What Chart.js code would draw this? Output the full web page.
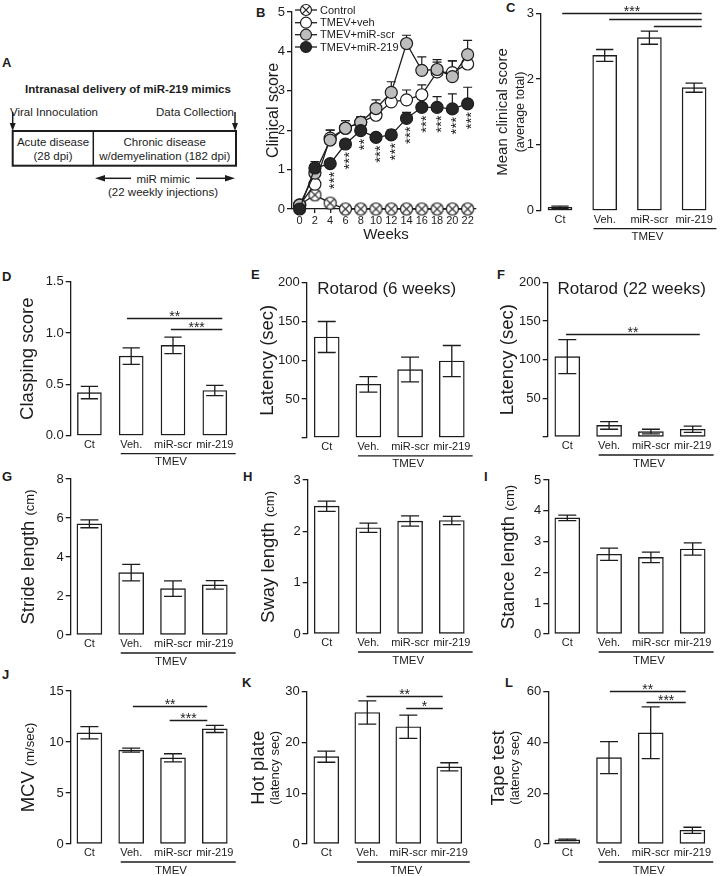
<!DOCTYPE html>
<html>
<head>
<meta charset="utf-8">
<title>miR-219 mimics</title>
<script src="https://cdn.jsdelivr.net/npm/chart.js@4.4.1/dist/chart.umd.min.js"></script>
<style>
  html, body { margin: 0; padding: 0; background: #fff; }
  #fig { position: relative; width: 726px; height: 876px; overflow: hidden;
         font-family: "Liberation Sans", Arial, Helvetica, sans-serif; color: #1c1c1c; }
  #fig canvas { position: absolute; }
  .lt { position: absolute; font-weight: bold; font-size: 13px; line-height: 1; }
  #schema { position: absolute; left: 0; top: 0; }
</style>
</head>
<body>
<div id="fig">
  <!-- panel A: study design -->
  <svg id="schema" width="240" height="205" font-family="Liberation Sans, Arial, sans-serif" fill="#1c1c1c">
    <text x="2" y="67" font-size="13" font-weight="bold">A</text>
    <text x="128" y="93" font-size="11.5" font-weight="bold" text-anchor="middle">Intranasal delivery of miR-219 mimics</text>
    <text x="10" y="116" font-size="11.5">Viral Innoculation</text>
    <text x="234" y="116" font-size="11.5" text-anchor="end">Data Collection</text>
    <line x1="12.7" y1="112" x2="12.7" y2="125" stroke="#1c1c1c" stroke-width="1.5"/>
    <polygon points="9.7,123 15.7,123 12.7,131" />
    <line x1="235" y1="112" x2="235" y2="125" stroke="#1c1c1c" stroke-width="1.5"/>
    <polygon points="232,123 238,123 235,131" />
    <rect x="12.7" y="131" width="223.3" height="34.7" fill="none" stroke="#1c1c1c" stroke-width="2"/>
    <line x1="93.3" y1="131" x2="93.3" y2="165.7" stroke="#1c1c1c" stroke-width="1.5"/>
    <text x="53" y="146" font-size="11.5" text-anchor="middle">Acute disease</text>
    <text x="53" y="159.5" font-size="11.5" text-anchor="middle">(28 dpi)</text>
    <text x="164.7" y="146" font-size="11.5" text-anchor="middle">Chronic disease</text>
    <text x="164.7" y="159.5" font-size="11.5" text-anchor="middle">w/demyelination (182 dpi)</text>
    <line x1="103" y1="178.3" x2="131" y2="178.3" stroke="#1c1c1c" stroke-width="1.5"/>
    <polygon points="95,178.3 105,175 105,181.6" />
    <line x1="196" y1="178.3" x2="227" y2="178.3" stroke="#1c1c1c" stroke-width="1.5"/>
    <polygon points="235,178.3 225,175 225,181.6" />
    <text x="163.3" y="182.5" font-size="11.5" text-anchor="middle">miR mimic</text>
    <text x="163" y="196" font-size="11.5" text-anchor="middle">(22 weekly injections)</text>
  </svg>

  <div class="lt" style="left:256px;top:6px">B</div>
  <div class="lt" style="left:506px;top:1px">C</div>
  <div class="lt" style="left:2px;top:270px">D</div>
  <div class="lt" style="left:251px;top:268px">E</div>
  <div class="lt" style="left:497px;top:268px">F</div>
  <div class="lt" style="left:2px;top:470px">G</div>
  <div class="lt" style="left:243px;top:470px">H</div>
  <div class="lt" style="left:484px;top:470px">I</div>
  <div class="lt" style="left:2px;top:668px">J</div>
  <div class="lt" style="left:242px;top:676px">K</div>
  <div class="lt" style="left:505px;top:676px">L</div>

  <canvas id="chartB"></canvas>
  <canvas id="chartC"></canvas>
  <canvas id="chartD"></canvas>
  <canvas id="chartE"></canvas>
  <canvas id="chartF"></canvas>
  <canvas id="chartG"></canvas>
  <canvas id="chartH"></canvas>
  <canvas id="chartI"></canvas>
  <canvas id="chartJ"></canvas>
  <canvas id="chartK"></canvas>
  <canvas id="chartL"></canvas>
</div>

<script>
// ---- data ----
const weeks = [0, 2, 4, 6, 8, 10, 12, 14, 16, 18, 20, 22];
const ctrlScore = [0.1, 0.36, 0.15, 0, 0, 0, 0, 0, 0, 0, 0, 0];
const vehScore = [0.1, 0.63, 1.8, 2.05, 2.2, 2.38, 2.72, 2.77, 2.9, 3.48, 3.46, 3.68];
const vehErr = [0, 0.12, 0.2, 0.19, 0.14, 0.12, 0.15, 0.25, 0.25, 0.25, 0.3, 0.15];
const scrScore = [0.1, 0.91, 1.75, 2.05, 2.2, 2.55, 2.96, 4.2, 3.52, 3.54, 3.36, 3.92];
const scrErr = [0, 0.15, 0.25, 0.19, 0.14, 0.22, 0.27, 0.21, 0.34, 0.25, 0.4, 0.36];
const m219Score = [0, 1.04, 1.15, 1.65, 1.99, 1.82, 1.88, 2.3, 2.58, 2.58, 2.54, 2.67];
const m219Err = [0, 0.16, 0, 0.1, 0.13, 0, 0.12, 0.15, 0.22, 0.27, 0.38, 0.42];
const m219Stars = ['', '', '***', '***', '**', '***', '***', '***', '***', '***', '***', '***'];

const groups = ['Ct', 'Veh.', 'miR-scr', 'mir-219'];
const meanScore = [0.05, 2.36, 2.63, 1.87];
const meanScoreErr = [0.02, 0.09, 0.1, 0.07];
const clasping = [0.42, 0.775, 0.88, 0.44];
const claspingErr = [0.06, 0.08, 0.08, 0.05];
const rotarod6 = [130, 69, 88, 99];
const rotarod6Err = [20, 10, 16, 20];
const rotarod22 = [104, 15, 7, 10];
const rotarod22Err = [22, 5, 3, 4];
const stride = [5.7, 3.2, 2.38, 2.57];
const strideErr = [0.2, 0.42, 0.4, 0.22];
const sway = [2.49, 2.07, 2.2, 2.21];
const swayErr = [0.1, 0.09, 0.1, 0.08];
const stance = [3.77, 2.59, 2.49, 2.76];
const stanceErr = [0.09, 0.2, 0.17, 0.2];
const mcv = [10.9, 9.2, 8.45, 11.28];
const mcvErr = [0.6, 0.2, 0.4, 0.35];
const hotPlate = [17.2, 25.9, 23.1, 15.2];
const hotPlateErr = [1.1, 2.3, 2.3, 0.8];
const tapeTest = [1.6, 34, 43.8, 5.4];
const tapeTestErr = [0.3, 6.3, 10.2, 1.2];

// significance brackets: group positions and height in data units
const sigC = [{ x1: 0.05, x2: 3.17, y: 3.0, text: '***' }, { x1: 1.1, x2: 3.17, y: 2.91, text: '' }, { x1: 2.1, x2: 3.17, y: 2.81, text: '' }];
const sigD = [{ x1: 0.9, x2: 3.18, y: 1.15, text: '**' }, { x1: 1.95, x2: 3.18, y: 1.04, text: '***' }];
const sigF = [{ x1: -0.03, x2: 3.17, y: 133, text: '**' }];
const sigJ = [{ x1: 1.04, x2: 2.82, y: 13.56, text: '**' }, { x1: 1.92, x2: 2.82, y: 12.16, text: '***' }];
const sigK = [{ x1: 0.98, x2: 2.84, y: 29.2, text: '**' }, { x1: 1.95, x2: 2.84, y: 26.7, text: '*' }];
const sigL = [{ x1: 1.02, x2: 2.84, y: 60.1, text: '**' }, { x1: 1.9, x2: 2.84, y: 55.8, text: '***' }];

// ---- common ----
const INK = '#1c1c1c';
const FONT = '"Liberation Sans", Arial, Helvetica, sans-serif';
Chart.defaults.font.family = FONT;
Chart.defaults.color = INK;

function place(cv, L) {
    cv.width = L.w;
    cv.height = L.h;
    cv.style.left = L.left + 'px';
    cv.style.top = L.top + 'px';
}

// rotated y axis label made of pieces with different sizes
function drawYLabel(ctx, parts, x, y) {
    const big = Math.max(...parts.map(p => p.s));
    let total = 0;
    parts.forEach(p => { ctx.font = p.s + 'px ' + FONT; total += ctx.measureText(p.t).width; });
    ctx.save();
    ctx.translate(x, y);
    ctx.rotate(-Math.PI / 2);
    ctx.fillStyle = INK;
    ctx.textAlign = 'left';
    ctx.textBaseline = 'alphabetic';
    let cur = -total / 2;
    parts.forEach(p => {
        ctx.font = p.s + 'px ' + FONT;
        ctx.fillText(p.t, cur, 0.36 * big);
        cur += ctx.measureText(p.t).width;
    });
    ctx.restore();
}

function barDeco(L, d) {
    return {
        id: 'deco',
        afterDatasetsDraw(chart) {
            const ctx = chart.ctx, xs = chart.scales.x, ys = chart.scales.y;
            const ox = L.left, oy = L.top;
            ctx.save();
            ctx.strokeStyle = INK;
            ctx.fillStyle = INK;
            ctx.lineWidth = 1.3;
            // error bars
            const hw = L.bw * 0.36;
            d.vals.forEach((v, i) => {
                const x = xs.getPixelForValue(i);
                const y1 = ys.getPixelForValue(Math.max(0, v - d.errs[i]));
                const y2 = ys.getPixelForValue(v + d.errs[i]);
                ctx.beginPath();
                ctx.moveTo(x, y1); ctx.lineTo(x, y2);
                ctx.moveTo(x - hw, y1); ctx.lineTo(x + hw, y1);
                ctx.moveTo(x - hw, y2); ctx.lineTo(x + hw, y2);
                ctx.stroke();
            });
            // significance lines
            (d.sig || []).forEach(s => {
                const y = Math.round(ys.getPixelForValue(s.y)) + 0.5;
                const a = xs.getPixelForValue(s.x1), b = xs.getPixelForValue(s.x2);
                ctx.beginPath();
                ctx.moveTo(a, y); ctx.lineTo(b, y);
                ctx.stroke();
                if (s.text) {
                    ctx.font = '14px ' + FONT;
                    ctx.textAlign = 'center';
                    ctx.textBaseline = 'alphabetic';
                    ctx.fillText(s.text, (a + b) / 2, y - 6 + 0.58 * 14);
                }
            });
            // TMEV bracket under the three infected groups
            const yb = chart.chartArea.bottom;
            const c1 = xs.getPixelForValue(1), c3 = xs.getPixelForValue(3);
            ctx.beginPath();
            ctx.moveTo(c1 - 0.25 * L.sp, yb + 17.5 + 0.5);
            ctx.lineTo(c3 + 0.5 * L.sp, yb + 17.5 + 0.5);
            ctx.stroke();
            ctx.font = '11.5px ' + FONT;
            ctx.textAlign = 'center';
            ctx.textBaseline = 'middle';
            ctx.fillText('TMEV', (c1 + c3) / 2 - 2, yb + 26.5);
            // panel title
            if (d.title) {
                ctx.font = '17px ' + FONT;
                ctx.fillText(d.title, d.titleX - ox, d.titleY - oy);
            }
            ctx.restore();
            // axis labels
            d.yLabel.forEach(line => {
                drawYLabel(ctx, line.parts, line.x - ox, (chart.chartArea.top + chart.chartArea.bottom) / 2);
            });
        }
    };
}

function barPanel(id, L, d) {
    const cv = document.getElementById(id);
    place(cv, L);
    const yW = L.axisX - L.left;
    const xmin = -(L.c0 - L.axisX) / L.sp, xmax = 3.55;
    const plotW = (xmax - xmin) * L.sp;
    const xH = L.top + L.h - L.yBot;
    return new Chart(cv, {
        type: 'bar',
        data: {
            datasets: [{
                data: d.vals.map((v, i) => ({ x: i, y: v })),
                backgroundColor: '#fff',
                borderColor: INK,
                borderWidth: 1.4,
                borderSkipped: false,
                barThickness: L.bw
            }]
        },
        options: {
            responsive: false,
            animation: false,
            devicePixelRatio: 1,
            layout: { autoPadding: false, padding: { top: L.yTop - L.top, right: L.w - yW - plotW, bottom: 0, left: 0 } },
            plugins: { legend: { display: false }, tooltip: { enabled: false } },
            scales: {
                x: {
                    type: 'linear', offset: false, min: xmin, max: xmax,
                    afterBuildTicks: s => { s.ticks = groups.map((g, i) => ({ value: i })); },
                    afterFit: s => { s.height = xH; },
                    ticks: { callback: v => groups[v], font: { size: 11 }, padding: 2.5, maxRotation: 0, autoSkip: false, color: INK },
                    grid: { display: false, drawTicks: false },
                    border: { display: false }
                },
                y: {
                    min: 0, max: d.ymax,
                    afterFit: s => { s.width = yW; },
                    ticks: { stepSize: d.step, callback: d.fmt || (v => v), font: { size: 13 }, padding: 2, color: INK },
                    grid: { drawOnChartArea: false, drawTicks: true, tickLength: 5, color: INK, lineWidth: 1.3 },
                    border: { display: true, color: INK, width: 1.3 }
                }
            }
        },
        plugins: [barDeco(L, d)]
    });
}

// ---- B: clinical score over time ----
function markerCtrl(r) {
    const c = document.createElement('canvas');
    const s = Math.ceil(2 * r + 3);
    c.width = c.height = s;
    const g = c.getContext('2d');
    const m = s / 2;
    g.fillStyle = '#fff';
    g.strokeStyle = INK;
    g.lineWidth = 1.2;
    g.beginPath(); g.arc(m, m, r, 0, Math.PI * 2); g.fill(); g.stroke();
    const q = r * 0.7;
    g.beginPath();
    g.moveTo(m - q, m - q); g.lineTo(m + q, m + q);
    g.moveTo(m + q, m - q); g.lineTo(m - q, m + q);
    g.stroke();
    return c;
}
const ctrlMark = markerCtrl(6);
const ctrlMarkSmall = markerCtrl(5.5);

function series(label, vals, errs, style, fill, order) {
    return {
        label: label,
        data: weeks.map((w, i) => ({ x: w, y: vals[i] })),
        errs: errs,
        borderColor: INK, borderWidth: 1.3, tension: 0, clip: false,
        pointStyle: style, pointRadius: 6, pointBackgroundColor: fill,
        pointBorderColor: INK, pointBorderWidth: 1.2, order: order
    };
}

const LB = { left: 240, top: 0, w: 240, h: 245, axisX: 292, yTop: 12, yBot: 209 };
(function () {
    const cv = document.getElementById('chartB');
    place(cv, LB);
    const yW = LB.axisX - LB.left;
    const plotW = 24 * 7.636;
    const deco = {
        id: 'decoB',
        beforeDatasetsDraw(chart) {
            const ctx = chart.ctx, xs = chart.scales.x, ys = chart.scales.y;
            ctx.save();
            ctx.strokeStyle = INK;
            ctx.lineWidth = 1.2;
            chart.data.datasets.forEach(ds => {
                if (!ds.errs) return;
                ds.data.forEach((p, i) => {
                    if (!ds.errs[i]) return;
                    const x = xs.getPixelForValue(p.x);
                    const y1 = ys.getPixelForValue(p.y), y2 = ys.getPixelForValue(p.y + ds.errs[i]);
                    ctx.beginPath();
                    ctx.moveTo(x, y1); ctx.lineTo(x, y2);
                    ctx.moveTo(x - 4.5, y2); ctx.lineTo(x + 4.5, y2);
                    ctx.stroke();
                });
            });
            ctx.restore();
        },
        afterDatasetsDraw(chart) {
            const ctx = chart.ctx, xs = chart.scales.x, ys = chart.scales.y;
            const ox = LB.left;
            ctx.save();
            ctx.fillStyle = INK;
            // stars under miR-219 points
            ctx.font = '15px ' + FONT;
            m219Stars.forEach((s, i) => {
                if (!s) return;
                const x = xs.getPixelForValue(weeks[i]), y = ys.getPixelForValue(m219Score[i]);
                ctx.save();
                ctx.translate(x, y + 8);
                ctx.rotate(-Math.PI / 2);
                ctx.textAlign = 'right';
                ctx.textBaseline = 'alphabetic';
                ctx.fillText(s, 0, 0.58 * 15);
                ctx.restore();
            });
            // legend
            const rows = [10, 22.7, 34.7, 47];
            chart.data.datasets.forEach((ds, k) => {
                const y = rows[k];
                ctx.strokeStyle = INK;
                ctx.lineWidth = 1.3;
                ctx.beginPath(); ctx.moveTo(295 - ox, y); ctx.lineTo(317 - ox, y); ctx.stroke();
                if (ds.pointStyle === 'circle') {
                    ctx.fillStyle = ds.pointBackgroundColor;
                    ctx.lineWidth = 1.2;
                    ctx.beginPath(); ctx.arc(306 - ox, y, 5.5, 0, Math.PI * 2); ctx.fill(); ctx.stroke();
                } else {
                    ctx.drawImage(ctrlMarkSmall, 306 - ox - ctrlMarkSmall.width / 2, y - ctrlMarkSmall.height / 2);
                }
                ctx.fillStyle = INK;
                ctx.font = '11px ' + FONT;
                ctx.textAlign = 'left';
                ctx.textBaseline = 'middle';
                ctx.fillText(ds.label, 320 - ox, y + 0.5);
            });
            // x title
            ctx.font = '15px ' + FONT;
            ctx.textAlign = 'center';
            ctx.textBaseline = 'middle';
            ctx.fillText('Weeks', 386 - ox, 235);
            ctx.restore();
            drawYLabel(ctx, [{ t: 'Clinical score', s: 16 }], 272 - ox, (chart.chartArea.top + chart.chartArea.bottom) / 2);
        }
    };
    new Chart(cv, {
        type: 'line',
        data: {
            datasets: [
                series('Control', ctrlScore, null, ctrlMark, '#fff', 3),
                series('TMEV+veh', vehScore, vehErr, 'circle', '#fff', 2),
                series('TMEV+miR-scr', scrScore, scrErr, 'circle', '#bdbdbd', 1),
                series('TMEV+miR-219', m219Score, m219Err, 'circle', '#262626', 0)
            ]
        },
        options: {
            responsive: false,
            animation: false,
            devicePixelRatio: 1,
            layout: { autoPadding: false, padding: { top: LB.yTop - LB.top, right: LB.w - yW - plotW, bottom: 0, left: 0 } },
            plugins: { legend: { display: false }, tooltip: { enabled: false } },
            scales: {
                x: {
                    type: 'linear', min: -1, max: 23,
                    afterBuildTicks: s => { s.ticks = weeks.map(w => ({ value: w })); },
                    afterFit: s => { s.height = LB.top + LB.h - LB.yBot; },
                    ticks: { font: { size: 11 }, padding: 1, maxRotation: 0, autoSkip: false, color: INK },
                    grid: { drawOnChartArea: false, drawTicks: true, tickLength: 4, color: INK, lineWidth: 1.3 },
                    border: { display: true, color: INK, width: 1.3 }
                },
                y: {
                    min: 0, max: 5,
                    afterFit: s => { s.width = yW; },
                    ticks: { stepSize: 1, font: { size: 13 }, padding: 2, color: INK },
                    grid: { drawOnChartArea: false, drawTicks: true, tickLength: 5, color: INK, lineWidth: 1.3 },
                    border: { display: true, color: INK, width: 1.3 }
                }
            }
        },
        plugins: [deco]
    });
})();

// ---- bar panels ----
const big = 18.5, small = 13;
const noZero = v => (v === 0 ? '' : v);
barPanel('chartC',
    { left: 480, top: 0, w: 246, h: 245, axisX: 541, yTop: 13.3, yBot: 210.7, c0: 560, sp: 44.7, bw: 24 },
    { vals: meanScore, errs: meanScoreErr, ymax: 3, step: 1, sig: sigC,
      yLabel: [{ x: 502, parts: [{ t: 'Mean clinical score', s: 15 }] }, { x: 519, parts: [{ t: '(average total)', s: 12.5 }] }] });
barPanel('chartD',
    { left: 0, top: 262, w: 240, h: 208, axisX: 70.7, yTop: 281.7, yBot: 435.7, c0: 89.4, sp: 41.8, bw: 24 },
    { vals: clasping, errs: claspingErr, ymax: 1.5, step: 0.5, fmt: v => v.toFixed(1), sig: sigD,
      yLabel: [{ x: 26, parts: [{ t: 'Clasping score', s: big }] }] });
barPanel('chartE',
    { left: 240, top: 262, w: 240, h: 208, axisX: 306.7, yTop: 282.7, yBot: 437.8, c0: 326.7, sp: 41.7, bw: 25 },
    { vals: rotarod6, errs: rotarod6Err, ymax: 200, step: 50, fmt: noZero, title: 'Rotarod (6 weeks)', titleX: 386.7, titleY: 289,
      yLabel: [{ x: 266, parts: [{ t: 'Latency (sec)', s: big }] }] });
barPanel('chartF',
    { left: 480, top: 262, w: 246, h: 208, axisX: 547.7, yTop: 282.3, yBot: 437, c0: 567.3, sp: 41.8, bw: 25 },
    { vals: rotarod22, errs: rotarod22Err, ymax: 200, step: 50, fmt: noZero, sig: sigF, title: 'Rotarod (22 weeks)', titleX: 631.7, titleY: 289,
      yLabel: [{ x: 506, parts: [{ t: 'Latency (sec)', s: big }] }] });
barPanel('chartG',
    { left: 0, top: 468, w: 240, h: 201, axisX: 70.7, yTop: 479, yBot: 635, c0: 89.4, sp: 41.8, bw: 25 },
    { vals: stride, errs: strideErr, ymax: 8, step: 2,
      yLabel: [{ x: 27, parts: [{ t: 'Stride length ', s: big }, { t: '(cm)', s: small }] }] });
barPanel('chartH',
    { left: 240, top: 468, w: 240, h: 200, axisX: 307.7, yTop: 480, yBot: 634, c0: 326.7, sp: 41.7, bw: 25 },
    { vals: sway, errs: swayErr, ymax: 3, step: 1,
      yLabel: [{ x: 267, parts: [{ t: 'Sway length ', s: big }, { t: '(cm)', s: small }] }] });
barPanel('chartI',
    { left: 480, top: 468, w: 246, h: 200, axisX: 548.3, yTop: 480, yBot: 634, c0: 567.3, sp: 41.8, bw: 25 },
    { vals: stance, errs: stanceErr, ymax: 5, step: 1,
      yLabel: [{ x: 507, parts: [{ t: 'Stance length ', s: big }, { t: '(cm)', s: small }] }] });
barPanel('chartJ',
    { left: 0, top: 672, w: 240, h: 204, axisX: 70.7, yTop: 691, yBot: 844, c0: 89.4, sp: 41.8, bw: 25 },
    { vals: mcv, errs: mcvErr, ymax: 15, step: 5, sig: sigJ,
      yLabel: [{ x: 27, parts: [{ t: 'MCV ', s: big }, { t: '(m/sec)', s: small }] }] });
barPanel('chartK',
    { left: 240, top: 672, w: 240, h: 204, axisX: 306.7, yTop: 691.7, yBot: 844, c0: 326.3, sp: 41, bw: 25 },
    { vals: hotPlate, errs: hotPlateErr, ymax: 30, step: 10, sig: sigK,
      yLabel: [{ x: 257, parts: [{ t: 'Hot plate', s: big }] }, { x: 274, parts: [{ t: '(latency sec)', s: small }] }] });
barPanel('chartL',
    { left: 480, top: 672, w: 246, h: 204, axisX: 548.3, yTop: 691.7, yBot: 844, c0: 567.3, sp: 41.7, bw: 25 },
    { vals: tapeTest, errs: tapeTestErr, ymax: 60, step: 20, sig: sigL,
      yLabel: [{ x: 497, parts: [{ t: 'Tape test', s: big }] }, { x: 514, parts: [{ t: '(latency sec)', s: small }] }] });
</script>
</body>
</html>
